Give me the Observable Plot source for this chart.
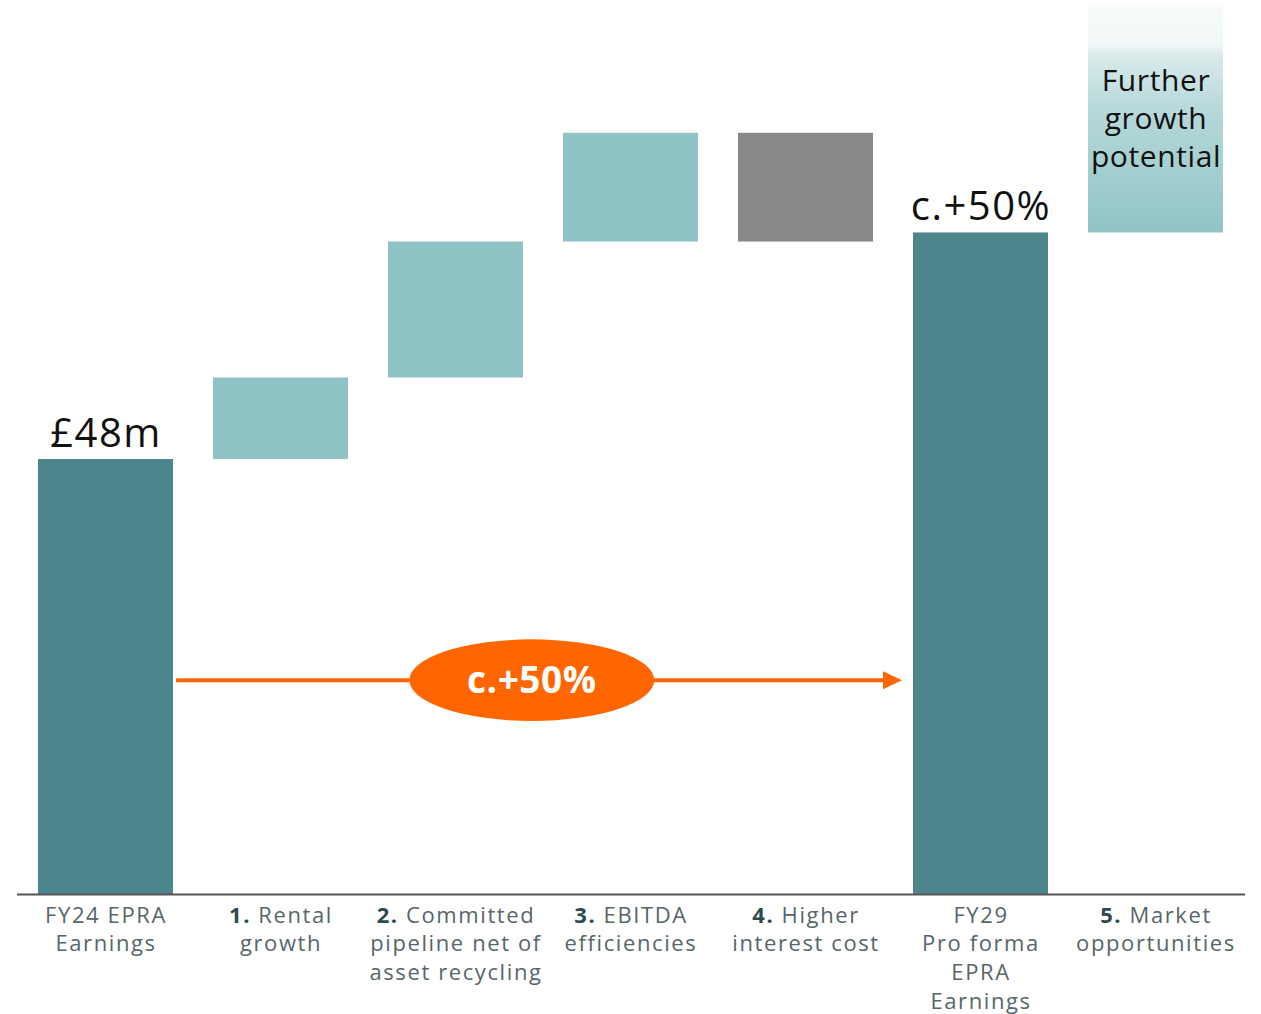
<!DOCTYPE html>
<html><head><meta charset="utf-8">
<script src="https://cdn.jsdelivr.net/npm/d3@7"></script>
<script src="https://cdn.jsdelivr.net/npm/@observablehq/plot@0.6"></script>
<style>
body{margin:0;background:#fff;}
#chart svg{display:block;}
</style>
</head><body><div id="chart"></div>
<script>
// ---- data ----
const categories = ["FY24 EPRA\nEarnings","1. Rental\ngrowth","2. Committed\npipeline net of\nasset recycling","3. EBITDA\nefficiencies","4. Higher\ninterest cost","FY29\nPro forma\nEPRA\nEarnings","5. Market\nopportunities"];
const starts = [0, 48, 57, 72, 84, 0, 73];
const ends   = [48, 57, 72, 84, 72, 73, 98.1];
const kinds  = ["total","increase","increase","increase","decrease","total","potential"];
const barLabels = ["£48m", "", "", "", "", "c.+50%", "Further\ngrowth\npotential"];
const arrowLevel = 23.6;      // £m height of the growth arrow
const arrowText = "c.+50%";

// ---- styling ----
const FONT = "'Open Sans', 'Noto Sans', sans-serif";
const PAD = 0.228;
const kindColors = {total: "#4d858c", increase: "#8fc3c6", decrease: "#898886", potential: "url(#growthGrad)"};

const rows = categories.map((c, i) => ({cat: c, y1: starts[i], y2: ends[i], kind: kinds[i], label: barLabels[i]}));

function gradientDefs() {
  const defs = d3.create("svg:defs");
  const g = defs.append("linearGradient").attr("id", "growthGrad")
    .attr("x1", 0).attr("y1", 1).attr("x2", 0).attr("y2", 0);
  [["0%", "#91c4c6"], ["55%", "#b7d9da"], ["78%", "#d9ebeb"], ["83%", "#f2f8f8"], ["100%", "#f7fbfb"]]
    .forEach(([o, c]) => g.append("stop").attr("offset", o).attr("stop-color", c));
  return defs.node();
}

function growthArrow(index, scales) {
  const x = scales.x, y = scales.y;
  const step = x(categories[1]) - x(categories[0]);
  const bw = step * (1 - PAD);
  const x0 = x(categories[0]) + bw + 3;
  const x1 = x(categories[5]) - 11;
  const yy = y(arrowLevel);
  const cx = x0 + 0.49 * (x1 - x0);
  const rx = step * 0.70;
  const ry = y(0) - y(4.5);
  const g = d3.create("svg:g");
  g.append("line").attr("x1", x0).attr("x2", x1 - 14).attr("y1", yy).attr("y2", yy)
    .attr("stroke", "#ff6600").attr("stroke-width", 4);
  g.append("path").attr("d", `M${x1},${yy}L${x1 - 19},${yy - 9}L${x1 - 19},${yy + 9}Z`).attr("fill", "#ff6600");
  g.append("ellipse").attr("cx", cx).attr("cy", yy).attr("rx", rx).attr("ry", ry).attr("fill", "#ff6600");
  g.append("text").attr("x", cx).attr("y", yy).attr("dy", "0.36em").attr("text-anchor", "middle")
    .attr("fill", "#fff").attr("font-weight", 700).attr("font-size", 37).attr("letter-spacing", "0.5px")
    .attr("font-family", FONT).text(arrowText);
  return g.node();
}

const chart = Plot.plot({
  width: 1261,
  height: 1014,
  marginLeft: 17,
  marginRight: 16,
  marginTop: 5,
  marginBottom: 120,
  style: {fontFamily: FONT, background: "#fff"},
  x: {domain: categories, paddingInner: PAD, paddingOuter: PAD / 2, label: null},
  y: {domain: [0, 98.1], axis: null},
  marks: [
    gradientDefs,
    Plot.rectY(rows, {x: "cat", y1: "y1", y2: "y2", fill: d => kindColors[d.kind]}),
    Plot.ruleY([0], {stroke: "#555", strokeWidth: 2}),
    Plot.axisX({tickSize: 0, tickPadding: 8, fontSize: 22, lineHeight: 1.3, fill: "#56666a", tickFormat: d => d}),
    Plot.text(rows.filter(d => d.kind === "total"), {x: "cat", y: "y2", text: "label", lineAnchor: "bottom", dy: -13, fontSize: 40, fill: "#111"}),
    Plot.text(rows.filter(d => d.kind === "potential"), {x: "cat", y: "y2", text: "label", lineAnchor: "top", dy: 58, fontSize: 30, lineHeight: 1.27, fill: "#111"}),
    growthArrow
  ]
});

const svg = d3.select(chart);
// wider letter spacing to approach the reference's geometric face
svg.selectAll('g[aria-label="x-axis tick label"] text').attr("letter-spacing", "1.6px");
svg.selectAll('g[aria-label="text"] text').each(function() {
  const big = +d3.select(this.parentNode).attr("font-size") >= 40;
  d3.select(this).attr("letter-spacing", big ? "1.5px" : "0.6px");
});

// bold numeric prefixes in the axis labels
svg.selectAll("tspan, text").each(function() {
  const el = d3.select(this);
  if (this.children.length) return;
  const t = el.text();
  const m = t.match(/^(\d\.)\s(.*)$/);
  if (!m) return;
  el.text(null);
  el.append("tspan").attr("font-weight", 700).attr("fill", "#2e4a4f").text(m[1]);
  el.append("tspan").text(" " + m[2]);
});

document.getElementById("chart").appendChild(chart);
</script>
</body></html>
